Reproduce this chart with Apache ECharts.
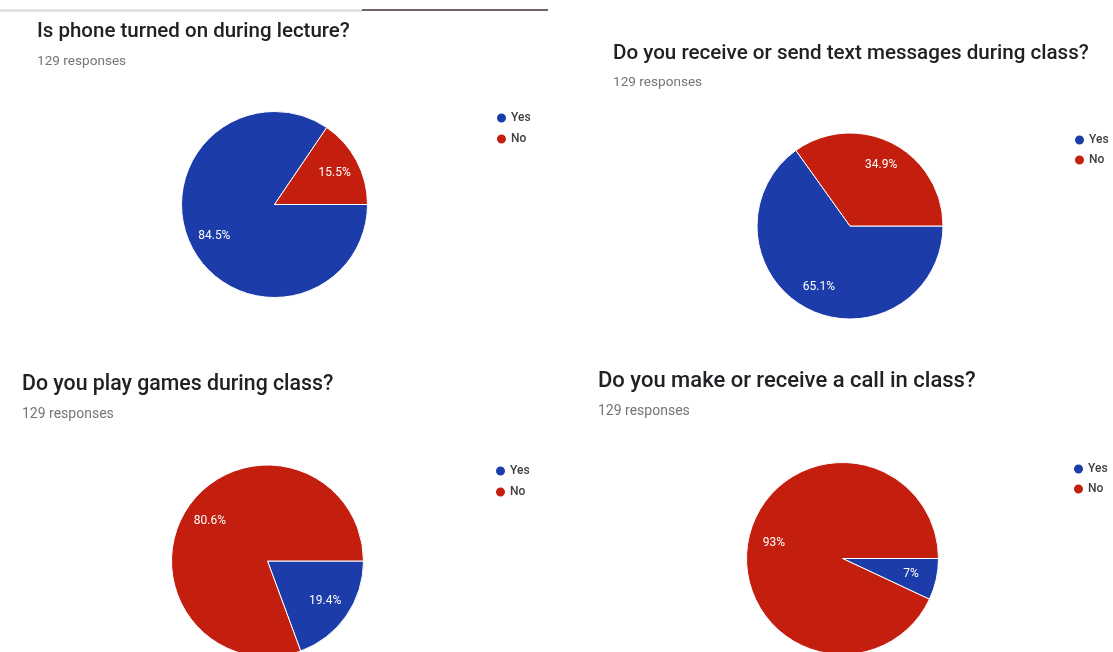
<!DOCTYPE html>
<html><head><meta charset="utf-8">
<script src="https://cdn.jsdelivr.net/npm/echarts@6/dist/echarts.min.js"></script>
<style>html,body{margin:0;padding:0;background:#fff}#c{width:1113px;height:652px}</style>
</head><body><div id="c"></div>
<script>
// ---- data ----
const questions = [
  'Is phone turned on during lecture?',
  'Do you receive or send text messages during class?',
  'Do you play games during class?',
  'Do you make or receive a call in class?'
];
const responseLabels = ['129 responses', '129 responses', '129 responses', '129 responses'];
const answers = ['Yes', 'No'];
const yesCounts = [109, 84, 25, 9];
const noCounts = [20, 45, 104, 120];

// ---- style / layout ----
const sliceColors = ['#1c3caa', '#c41f0e'];
const layout = [
  { cx: 274.5, cy: 204.5, r: 93, tLeft: 37, tTop: 22, tSize: 20.5, sSize: 13.6, sGap: 11.5, lLeft: 495, lTop: 111.5, gap: 8 },
  { cx: 850, cy: 226, r: 93, tLeft: 613, tTop: 44, tSize: 20.6, sSize: 13.6, sGap: 11, lLeft: 1073, lTop: 133.5, gap: 7 },
  { cx: 267.5, cy: 561, r: 96, tLeft: 22, tTop: 374.5, tSize: 21.3, sSize: 14, sGap: 11.5, lLeft: 494, lTop: 464.5, gap: 8 },
  { cx: 842.5, cy: 558.5, r: 96, tLeft: 598, tTop: 371, tSize: 22, sSize: 14, sGap: 11, lLeft: 1072, lTop: 462.5, gap: 7 }
];
const FONT = 'Roboto, "Noto Sans", sans-serif';

const chart = echarts.init(document.getElementById('c'), null, { renderer: 'canvas' });

function sliceData(i, transparent) {
  const vals = [yesCounts[i], noCounts[i]];
  return answers.map((name, k) => ({
    name,
    value: vals[k],
    itemStyle: { color: transparent ? 'rgba(0,0,0,0)' : sliceColors[k] }
  }));
}

const titles = [], legends = [], series = [];
layout.forEach((L, i) => {
  titles.push({
    text: questions[i],
    subtext: responseLabels[i],
    left: L.tLeft, top: L.tTop, padding: 0, itemGap: L.sGap,
    textStyle: { fontFamily: FONT, fontWeight: 500, fontSize: L.tSize, lineHeight: 20, color: '#202124' },
    subtextStyle: { fontFamily: FONT, fontSize: L.sSize, lineHeight: 14, color: '#757575' }
  });
  legends.push({
    left: L.lLeft, top: L.lTop, orient: 'vertical', padding: 0,
    icon: 'circle', itemWidth: 11, itemHeight: 11, itemGap: L.gap,
    selectedMode: false, data: answers,
    textStyle: { fontFamily: FONT, fontSize: 12, fontWeight: 500, lineHeight: 11, color: '#3c4043', padding: [0, 0, 0, -1] }
  });
  series.push({
    type: 'pie', center: [L.cx, L.cy], radius: [0, L.r],
    startAngle: 0, clockwise: true, animation: false,
    data: sliceData(i, false),
    label: { show: false }, labelLine: { show: false },
    itemStyle: { borderColor: '#ffffff', borderWidth: 1 },
    emphasis: { disabled: true }
  });
  series.push({
    type: 'pie', center: [L.cx, L.cy], radius: [L.r * 0.4, L.r],
    startAngle: 0, clockwise: true, animation: false, silent: true,
    data: sliceData(i, true),
    label: {
      show: true, position: 'inside', color: '#ffffff',
      fontFamily: FONT, fontSize: 12,
      formatter: p => Number(p.percent.toFixed(1)) + '%'
    },
    labelLine: { show: false },
    itemStyle: { borderWidth: 0 },
    emphasis: { disabled: true }
  });
});

chart.setOption({
  backgroundColor: '#ffffff',
  animation: false,
  title: titles,
  legend: legends,
  series: series,
  graphic: [
    { type: 'rect', shape: { x: 0, y: 9, width: 362, height: 3 }, style: { fill: '#e3e3e3' }, silent: true },
    { type: 'rect', shape: { x: 362, y: 9, width: 186, height: 2 }, style: { fill: '#6f6461' }, silent: true }
  ]
});
</script>
</body></html>
